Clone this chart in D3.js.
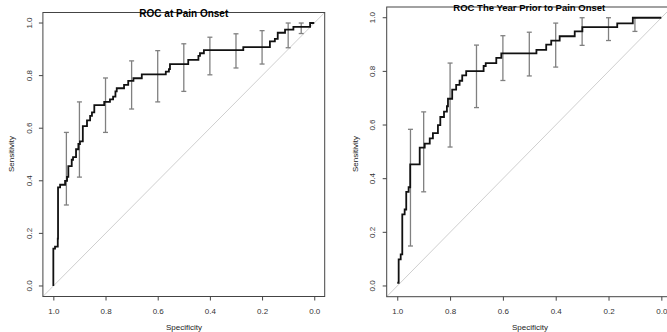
<!DOCTYPE html>
<html lang="en">
<head>
  <meta charset="UTF-8">
  <title>ROC curves</title>
  <style>
    body, html { margin: 0; padding: 0; background: #fff; }
    svg { display: block; }
    text { font-family: "Liberation Sans", Arial, sans-serif; }
  </style>
</head>
<body>
  <svg id="svg" width="667" height="332"></svg>
  <script src="https://d3js.org/d3.v7.min.js"></script>
  <script>
    // --- data ---
    const ticks = [1.0, 0.8, 0.6, 0.4, 0.2, 0.0]

    // left: ROC at pain onset (specificity, sensitivity vertices)
    const onsetSpec = [1.0, 1.0, 0.9935, 0.983, 0.982, 0.974, 0.955, 0.9475, 0.9425, 0.9295, 0.9245, 0.913, 0.904, 0.898, 0.887, 0.871, 0.859, 0.852, 0.843, 0.805, 0.783, 0.771, 0.762, 0.757, 0.729, 0.713, 0.693, 0.661, 0.569, 0.557, 0.553, 0.483, 0.444, 0.438, 0.423, 0.272, 0.170, 0.151, 0.140, 0.112, 0.080, 0.016, 0.0]
    const onsetSens = [0.0, 0.142, 0.15, 0.18, 0.375, 0.385, 0.40, 0.415, 0.456, 0.48, 0.49, 0.52, 0.54, 0.55, 0.608, 0.63, 0.647, 0.66, 0.688, 0.70, 0.71, 0.72, 0.74, 0.752, 0.765, 0.78, 0.79, 0.805, 0.815, 0.825, 0.844, 0.86, 0.875, 0.885, 0.897, 0.908, 0.93, 0.94, 0.963, 0.975, 0.985, 1.0, 1.0]
    const onsetBarSpec = [0.95, 0.9, 0.8, 0.7, 0.6, 0.5, 0.4, 0.3, 0.2, 0.1, 0.05]
    const onsetBarLo = [0.308, 0.414, 0.584, 0.673, 0.70, 0.74, 0.803, 0.829, 0.844, 0.906, 0.96]
    const onsetBarHi = [0.584, 0.70, 0.791, 0.856, 0.895, 0.921, 0.946, 0.959, 0.971, 1.0, 1.0]

    // right: ROC the year prior to pain onset
    const priorSpec = [1.0, 0.9947, 0.987, 0.981, 0.972, 0.966, 0.957, 0.951, 0.915, 0.896, 0.877, 0.865, 0.846, 0.837, 0.823, 0.812, 0.808, 0.792, 0.777, 0.764, 0.754, 0.739, 0.673, 0.665, 0.625, 0.606, 0.473, 0.436, 0.417, 0.385, 0.328, 0.299, 0.167, 0.108, 0.0]
    const priorSens = [0.012, 0.099, 0.118, 0.267, 0.285, 0.351, 0.368, 0.453, 0.516, 0.531, 0.55, 0.57, 0.60, 0.63, 0.65, 0.67, 0.698, 0.732, 0.75, 0.765, 0.785, 0.801, 0.82, 0.831, 0.85, 0.867, 0.88, 0.90, 0.915, 0.931, 0.949, 0.965, 0.979, 1.0, 1.0]
    const priorBarSpec = [0.95, 0.9, 0.8, 0.7, 0.6, 0.5, 0.4, 0.3, 0.2, 0.1]
    const priorBarLo = [0.149, 0.351, 0.518, 0.665, 0.766, 0.783, 0.816, 0.897, 0.915, 0.949]
    const priorBarHi = [0.584, 0.649, 0.831, 0.898, 0.933, 0.946, 0.98, 1.0, 1.0, 1.0]

    const svg = d3.select('#svg')

    function drawPanel(p) {
      const x = d3.scaleLinear().domain([1.04, -0.04]).range([p.left, p.right])
      const y = d3.scaleLinear().domain([-0.04, 1.04]).range([p.bottom, p.top])
      const g = svg.append('g')

      // reference diagonal
      g.append('line')
        .attr('x1', x(1.04)).attr('y1', y(-0.04))
        .attr('x2', x(-0.04)).attr('y2', y(1.04))
        .attr('stroke', '#cfcfcf').attr('stroke-width', 1)

      // confidence bars
      const bars = g.selectAll('.bar')
        .data(p.barSpec.map((s, i) => ({ s, lo: p.barLo[i], hi: p.barHi[i] })))
        .enter().append('g')
        .attr('stroke', '#808080').attr('stroke-width', 1.3)
      bars.append('line')
        .attr('x1', d => x(d.s)).attr('x2', d => x(d.s))
        .attr('y1', d => y(d.lo)).attr('y2', d => y(d.hi))
      bars.append('line')
        .attr('x1', d => x(d.s) - 2.5).attr('x2', d => x(d.s) + 2.5)
        .attr('y1', d => y(d.lo)).attr('y2', d => y(d.lo))
      bars.append('line')
        .attr('x1', d => x(d.s) - 2.5).attr('x2', d => x(d.s) + 2.5)
        .attr('y1', d => y(d.hi)).attr('y2', d => y(d.hi))

      // roc curve
      const pts = p.spec.map((s, i) => [s, p.sens[i]])
      g.append('path')
        .datum(pts)
        .attr('fill', 'none').attr('stroke', '#111').attr('stroke-width', 1.8)
        .attr('d', d3.line().x(d => x(d[0])).y(d => y(d[1])).curve(d3.curveStepAfter))

      // box
      g.append('rect')
        .attr('x', p.left).attr('y', p.top)
        .attr('width', p.right - p.left).attr('height', p.bottom - p.top)
        .attr('fill', 'none').attr('stroke', '#444').attr('stroke-width', 1)

      const xAxis = g.append('g')
        .attr('transform', `translate(0,${p.bottom})`)
        .call(d3.axisBottom(x).tickValues(ticks).tickSize(4).tickPadding(8).tickFormat(d3.format('.1f')))
      xAxis.select('.domain').remove()
      xAxis.selectAll('line').attr('stroke', '#444')
      xAxis.selectAll('text').attr('fill', '#333').style('font-size', '8px')

      const yAxis = g.append('g')
        .attr('transform', `translate(${p.left},0)`)
        .call(d3.axisLeft(y).tickValues(ticks).tickSize(4).tickFormat(d3.format('.1f')))
      yAxis.select('.domain').remove()
      yAxis.selectAll('.tick').attr('transform', null)
      yAxis.selectAll('.tick line')
        .attr('stroke', '#444')
        .attr('y1', d => y(d)).attr('y2', d => y(d))
      yAxis.selectAll('.tick text')
        .attr('fill', '#333').style('font-size', '8px')
        .attr('text-anchor', 'middle').attr('x', null).attr('y', 0).attr('dy', '0.32em')
        .attr('transform', d => `translate(${-p.yTickOff},${y(d)}) rotate(-90)`)

      // title & axis labels
      g.append('text')
        .attr('x', (p.left + p.right) / 2).attr('y', p.titleY)
        .attr('text-anchor', 'middle').attr('dy', '0.35em')
        .style('font-size', p.titleSize).style('font-weight', 'bold')
        .text(p.title)
      g.append('text')
        .attr('x', p.xLabelX).attr('y', 330)
        .attr('text-anchor', 'middle')
        .style('font-size', '8px').attr('fill', '#222')
        .text('Specificity')
      g.append('text')
        .attr('transform', `translate(${p.yLabelX},154) rotate(-90)`)
        .attr('text-anchor', 'middle')
        .style('font-size', '8px').attr('fill', '#222')
        .text('Sensitivity')
    }

    drawPanel({
      left: 42.9, right: 324.7, top: 12.5, bottom: 296.5,
      spec: onsetSpec, sens: onsetSens,
      barSpec: onsetBarSpec, barLo: onsetBarLo, barHi: onsetBarHi,
      title: 'ROC at  Pain Onset', titleY: 13, titleSize: '10px',
      xLabelX: 184, yLabelX: 14, yTickOff: 13
    })

    drawPanel({
      left: 386.7, right: 671.9, top: 7, bottom: 296.7,
      spec: priorSpec, sens: priorSens,
      barSpec: priorBarSpec, barLo: priorBarLo, barHi: priorBarHi,
      title: 'ROC The Year Prior to Pain Onset', titleY: 7.5, titleSize: '9.5px',
      xLabelX: 530, yLabelX: 358, yTickOff: 14
    })
  </script>
</body>
</html>
